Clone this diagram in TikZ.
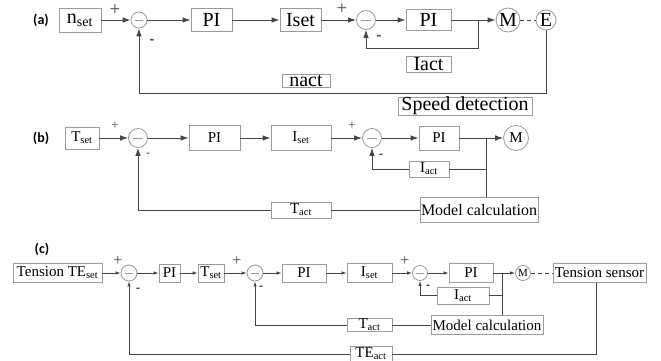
\documentclass[tikz,border=0pt]{standalone}
\usepackage{fontspec}
\setmainfont{Liberation Serif}
\newfontfamily\labfont{Carlito}
\usetikzlibrary{arrows.meta}
\definecolor{lc}{HTML}{454545}
\definecolor{bc}{HTML}{9A9A9A}
\begin{document}
\begin{tikzpicture}[x=1pt,y=-1pt,
  ln/.style={draw=lc,line width=0.9pt},
  arrA/.style={-{Latex[length=8pt,width=5.5pt]}},
  arrC/.style={-{Latex[length=5pt,width=3.5pt]}},
  blk/.style 2 args={draw=bc,line width=0.8pt,inner sep=0pt,minimum width=#1pt,minimum height=#2pt},
  sumc/.style={circle,draw=bc,line width=0.8pt,inner sep=0pt,minimum size=#1pt,
    path picture={\draw[bc,line width=0.8pt] ([xshift={-0.28*#1pt}]path picture bounding box.center) -- ([xshift={0.28*#1pt}]path picture bounding box.center);}},
  mot/.style={circle,draw=bc,line width=0.8pt,inner sep=0pt,minimum size=#1pt},
  lab/.style={font=\labfont\bfseries\fontsize{14}{16}\selectfont},
  fa/.style={font=\fontsize{20}{22}\selectfont},
  fb/.style={font=\fontsize{15}{17}\selectfont},
  fc/.style={font=\fontsize{15}{17}\selectfont},
  plus/.style={font=\fontsize{#1}{#1}\selectfont,inner sep=0pt,text=lc},
  minus/.style={font=\labfont\bfseries\fontsize{#1}{#1}\selectfont,inner sep=0pt,text=lc}
]
\useasboundingbox (0,0) rectangle (661,361);

% ---------------- (a)
\node[lab] (la) at (41,20) {(a)};
\node[blk={42}{24},fa] (nset) at (80,20) {n\textsubscript{set}};
\node[sumc=16] (s1) at (139,20) {};
\node[blk={41}{23},fa] (pi1) at (211.5,20) {PI};
\node[blk={41}{23},fa] (iset) at (300.5,20) {Iset};
\node[sumc=19] (s2) at (366,20) {};
\node[blk={45}{21},fa] (pi2) at (428.5,20) {PI};
\node[mot=24,fa] (M1) at (508,20) {M};
\node[mot=20,fa] (E1) at (546,20) {E};
\node[blk={45}{16},fa] (iact) at (428.5,64) {Iact};
\node[blk={48}{13},fa] (nact) at (306,81) {nact};
\node[blk={134}{18},fa] (speed) at (465,106) {Speed detection};
\node[plus=19] (p1) at (115,10) {+};
\node[minus=15] (m1) at (152,42) {-};
\node[plus=19] (p2) at (342,9) {+};
\node[minus=15] (m2) at (379,38) {-};

\draw[ln,arrA] (nset) -- (s1);
\draw[ln,arrA] (s1) -- (pi1);
\draw[ln,arrA] (pi1) -- (iset);
\draw[ln,arrA] (iset) -- (s2);
\draw[ln,arrA] (s2) -- (pi2);
\draw[ln,arrA] (pi2) -- (M1);
\draw[ln,dash pattern=on 4pt off 3pt] (M1) -- (E1);
\coordinate (b1) at (478,20);
\coordinate (c1) at (478,48);
\draw[ln,arrA] (b1) -- (c1) -| (s2.south);
\coordinate (f1) at (546,93);
\draw[ln,arrA] (E1.south) -- (f1) -| (s1.south);

% ---------------- (b)
\node[lab] (lb) at (41,138) {(b)};
\node[blk={34}{22},fb] (tset) at (82,138) {T\textsubscript{set}};
\node[sumc=19] (s3) at (138,138) {};
\node[blk={51}{25},fb] (pi3) at (214.5,138) {PI};
\node[blk={60}{25},fb] (iset2) at (301,138) {I\textsubscript{set}};
\node[sumc=19] (s4) at (372,138) {};
\node[blk={40}{24},fb] (pi4) at (439,138) {PI};
\node[mot=25,fb] (M2) at (516,138) {M};
\node[blk={40}{16},fb] (iact2) at (429,169) {I\textsubscript{act}};
\node[blk={118}{25},font=\fontsize{16}{18}\selectfont] (model2) at (479,210) {Model calculation};
\node[blk={60}{16},fb] (tact2) at (301,210) {T\textsubscript{act}};
\node[plus=13] (p3) at (115,126) {+};
\node[plus=13] (p4) at (352,126) {+};
\node[plus=12] (m3) at (148,155) {-};
\node[minus=13] (m4) at (381,156) {-};

\draw[ln,arrA] (tset) -- (s3);
\draw[ln,arrA] (s3) -- (pi3);
\draw[ln,arrA] (pi3) -- (iset2);
\draw[ln,arrA] (iset2) -- (s4);
\draw[ln,arrA] (s4) -- (pi4);
\draw[ln,arrA] (pi4) -- (M2);
\coordinate (b2) at (486,138);
\coordinate (b2i) at (486,169);
\draw[ln] (b2) -- (b2 |- model2.north);
\draw[ln] (b2i) -- (iact2.east);
\draw[ln,arrA] (iact2.west) -| (s4.south);
\draw[ln] (model2.west) -- (tact2.east);
\draw[ln,arrA] (tact2.west) -| (s3.south);

% ---------------- (c)
\node[lab] (lc) at (42,249) {(c)};
\node[blk={89}{19},fc] (teset) at (57.5,273) {Tension TE\textsubscript{set}};
\node[sumc=16] (s5) at (129,273) {};
\node[blk={21}{18},fc] (pi5) at (169.5,273) {PI};
\node[blk={26}{18},fc] (tset3) at (211,273) {T\textsubscript{set}};
\node[sumc=16] (s6) at (255,273) {};
\node[blk={44}{18},fc] (pi6) at (304,273) {PI};
\node[blk={45}{19},fc] (iset3) at (369.5,273) {I\textsubscript{set}};
\node[sumc=15] (s7) at (420,273) {};
\node[blk={44}{19},fc] (pi7) at (471,273) {PI};
\node[mot=15,font=\fontsize{11}{12}\selectfont] (M3) at (523,273) {M};
\node[blk={93}{19},fc] (tsensor) at (599.5,273) {Tension sensor};
\node[blk={52}{17},fc] (iact3) at (463,295.5) {I\textsubscript{act}};
\node[blk={112}{19},fc] (model3) at (487,325) {Model calculation};
\node[blk={45}{13},fc] (tact3) at (369.5,325) {T\textsubscript{act}};
\node[blk={42}{16},fc] (teact) at (371,354) {TE\textsubscript{act}};
\node[plus=16] (p5) at (118,261) {+};
\node[plus=16] (p6) at (237,261) {+};
\node[plus=16] (p7) at (405,261) {+};
\node[minus=13] (m5) at (138,290) {-};
\node[minus=13] (m6) at (261,288) {-};
\node[minus=13] (m7) at (428,287) {-};

\draw[ln,arrC] (teset) -- (s5);
\draw[ln,arrC] (s5) -- (pi5);
\draw[ln,arrC] (pi5) -- (tset3);
\draw[ln,arrC] (tset3) -- (s6);
\draw[ln,arrC] (s6) -- (pi6);
\draw[ln,arrC] (pi6) -- (iset3);
\draw[ln,arrC] (iset3) -- (s7);
\draw[ln,arrC] (s7) -- (pi7);
\draw[ln,arrC] (pi7) -- (M3);
\draw[ln,dash pattern=on 4pt off 3pt] (M3) -- (tsensor);
\coordinate (b3) at (502,273);
\coordinate (b3i) at (502,295.5);
\draw[ln] (b3) -- (b3 |- model3.north);
\draw[ln] (b3i) -- (iact3.east);
\draw[ln,arrC] (iact3.west) -| (s7.south);
\draw[ln] (model3.west) -- (tact3.east);
\draw[ln,arrC] (tact3.west) -| (s6.south);
\coordinate (ts) at (596,273);
\coordinate (f3) at (596,354);
\draw[ln] (ts |- tsensor.south) -- (f3) -- (teact.east);
\draw[ln,arrC] (teact.west) -| (s5.south);
\end{tikzpicture}
\end{document}
